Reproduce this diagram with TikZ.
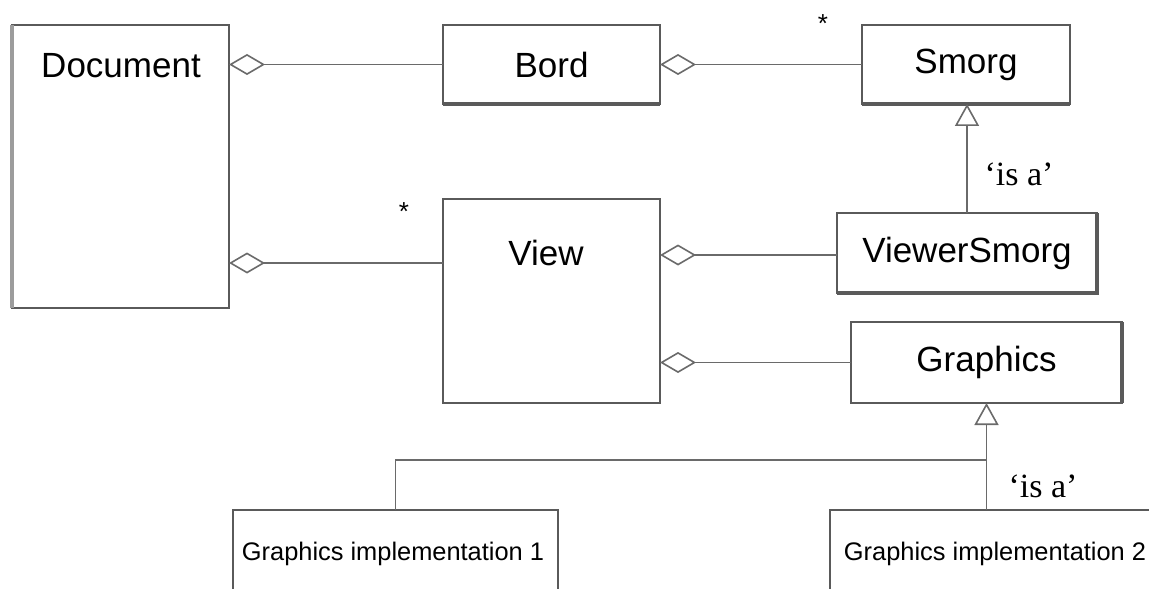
\documentclass[tikz,border=0pt]{standalone}
\usepackage{fontspec}
\setmainfont{Liberation Sans}
\newfontfamily\labelserif{Liberation Serif}
\usetikzlibrary{arrows.meta}
\definecolor{edge}{HTML}{5A5A5A}
\definecolor{wire}{HTML}{6A6A6A}
\tikzset{
  cls/.style={draw=edge, line width=1pt, fill=white, inner sep=0pt, outer sep=0pt,
              font=\fontsize{17.5pt}{20pt}\selectfont},
  clsname/.style={inner sep=0pt, anchor=base, font=\fontsize{17.5pt}{20pt}\selectfont},
  implname/.style={inner sep=0pt, anchor=base, font=\fontsize{12.7pt}{15pt}\selectfont},
  rolelabel/.style={inner sep=0pt, anchor=base, font=\labelserif\fontsize{17pt}{20pt}\selectfont},
  mult/.style={inner sep=0pt, anchor=north, font=\fontsize{13pt}{15pt}\selectfont},
  shade edge/.style={draw=edge, line width=1.7pt},
  agg/.style={draw=wire, line width=0.8pt,
              -{Diamond[open, fill=white, length=18pt, width=10.5pt, line width=0.8pt]}},
  gen/.style={draw=wire, line width=0.8pt,
              -{Triangle[open, fill=white, length=11pt, width=12pt, line width=0.8pt]}},
  wireline/.style={draw=wire, line width=0.8pt},
}
\begin{document}
\begin{tikzpicture}[x=0.5pt, y=-0.5pt]
\useasboundingbox (0,0) rectangle (1149,588);
\clip (0,0) rectangle (1149,588);

% classes
\node[cls, minimum width=108.5pt, minimum height=141.5pt] (doc) at (120.5,166.5) {};
\node[cls, minimum width=108.5pt, minimum height=39.5pt] (bord) at (551.5,64.5) {Bord};
\node[cls, minimum width=104pt, minimum height=39.5pt] (smorg) at (966,64.5) {Smorg};
\node[cls, minimum width=108.5pt, minimum height=102pt] (view) at (551.5,301) {};
\node[cls, minimum width=130pt, minimum height=40pt] (vsmorg) at (967,253) {ViewerSmorg};
\node[cls, minimum width=135.5pt, minimum height=40.5pt] (gfx) at (986.5,362.5) {Graphics};
\node[cls, minimum width=162.5pt, minimum height=55pt] (impA) at (395.5,565) {};
\node[cls, minimum width=161pt, minimum height=55pt] (impB) at (991,565) {};

% heavier lower and side edges
\draw[shade edge] (bord.south west) -- (bord.south east);
\draw[shade edge] (smorg.south west) -- (smorg.south east);
\draw[shade edge] (vsmorg.south west) -- (vsmorg.south east) -- (vsmorg.north east);
\draw[shade edge] (gfx.south east) -- (gfx.north east);
\draw[draw=edge!60, line width=1.6pt] (doc.south west) -- (doc.north west);

% class names placed near the top of tall boxes
\node[clsname] (docname) at (121,78) {Document};
\node[clsname] (viewname) at (546,265) {View};
\node[implname] (impAname) at (393,560) {Graphics implementation 1};
\node[implname] (impBname) at (995,560) {Graphics implementation 2};

% aggregations
\coordinate (docview) at (0,263);
\draw[agg] (bord.west) -- (doc.east |- bord.west);
\draw[agg] (smorg.west) -- (bord.east |- smorg.west);
\draw[agg] (view.west |- docview) -- (doc.east |- docview);
\draw[agg] (vsmorg.west |- 0,255) -- (view.east |- 0,255);
\draw[agg] (gfx.west) -- (view.east |- gfx.west);

% generalisations
\coordinate (bus) at (0,460);
\draw[gen] (vsmorg.north) -- (vsmorg.north |- smorg.south);
\draw[wireline] (impA.north) |- (bus -| gfx.south);
\draw[gen] (gfx.south |- impB.north) -- (gfx.south);

% multiplicities and role labels
\node[mult] (mA) at (823,14) {*};
\node[mult] (mB) at (404,202) {*};
\node[rolelabel] (isaA) at (1019,185) {‘is a’};
\node[rolelabel] (isaB) at (1043,497) {‘is a’};
\end{tikzpicture}
\end{document}
